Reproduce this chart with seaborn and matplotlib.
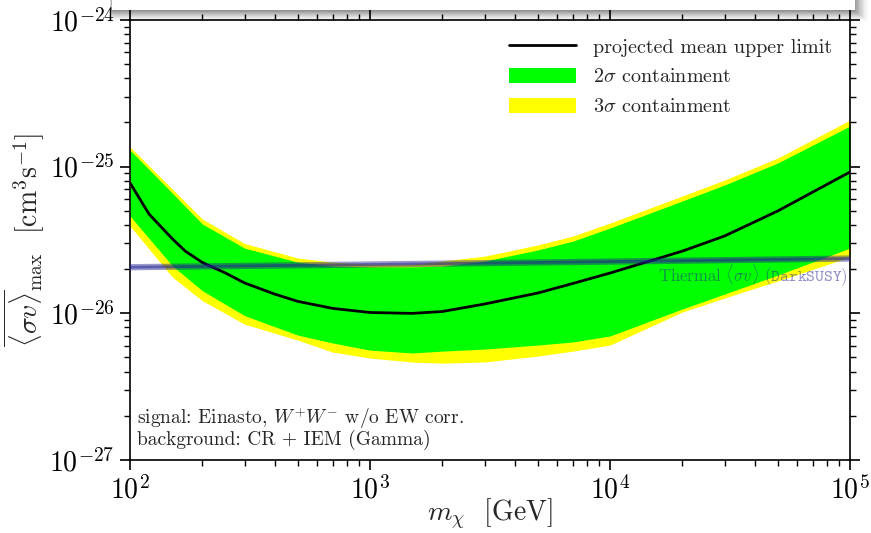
import numpy as np
import pandas as pd
import matplotlib
matplotlib.use("Agg")
import matplotlib.pyplot as plt
import matplotlib.patches as mpatches
from matplotlib.lines import Line2D
import seaborn as sns

# Dark-matter mass grid for the containment bands [GeV]
mass = [100, 150, 200, 300, 500, 700, 1000, 1500, 2000, 3000, 5000, 7000,
        10000, 20000, 30000, 50000, 100000]

# 2 sigma containment band [cm^3 s^-1]
band2_lo = [4.60e-26, 2.11e-26, 1.426e-26, 9.64e-27, 7.10e-27, 6.27e-27,
            5.61e-27, 5.36e-27, 5.52e-27, 5.70e-27, 6.07e-27, 6.37e-27,
            7.00e-27, 1.069e-26, 1.352e-26, 1.82e-26, 2.78e-26]
band2_hi = [1.294e-25, 6.59e-26, 4.06e-26, 2.78e-26, 2.23e-26, 2.10e-26,
            2.07e-26, 2.07e-26, 2.10e-26, 2.27e-26, 2.70e-26, 3.10e-26,
            3.81e-26, 5.82e-26, 7.48e-26, 1.057e-25, 1.888e-25]

# 3 sigma containment band [cm^3 s^-1]
band3_lo = [3.93e-26, 1.766e-26, 1.219e-26, 8.43e-27, 6.56e-27, 5.43e-27,
            4.95e-27, 4.65e-27, 4.57e-27, 4.65e-27, 5.11e-27, 5.52e-27,
            6.07e-27, 1.019e-26, 1.27e-26, 1.66e-26, 2.415e-26]
band3_hi = [1.358e-25, 7.03e-26, 4.39e-26, 2.99e-26, 2.38e-26, 2.23e-26,
            2.16e-26, 2.16e-26, 2.27e-26, 2.45e-26, 2.92e-26, 3.36e-26,
            4.12e-26, 6.30e-26, 8.09e-26, 1.143e-25, 2.075e-25]

# Projected mean upper limit [cm^3 s^-1]
mean_mass = [100, 120, 150, 170, 200, 250, 300, 400, 500, 700, 1000, 1500,
             2000, 3000, 5000, 7000, 10000, 20000, 30000, 50000, 100000]
mean_limit = [7.73e-26, 4.74e-26, 3.22e-26, 2.65e-26, 2.22e-26, 1.88e-26,
              1.61e-26, 1.352e-26, 1.205e-26, 1.079e-26, 1.012e-26, 0.998e-26,
              1.028e-26, 1.156e-26, 1.374e-26, 1.596e-26, 1.88e-26, 2.65e-26,
              3.36e-26, 4.98e-26, 9.18e-26]

# Thermal relic cross section (DarkSUSY)
thermal_mass = [100, 1000, 10000, 100000]
thermal_sv = [2.06e-26, 2.15e-26, 2.25e-26, 2.36e-26]

x_ticks = [1e2, 1e3, 1e4, 1e5]
y_ticks = [1e-27, 1e-26, 1e-25, 1e-24]

sns.set_style("ticks")
plt.rcParams.update({
    "font.family": "serif",
    "font.serif": ["cmr10", "DejaVu Serif"],
    "mathtext.fontset": "cm",
    "axes.formatter.use_mathtext": True,
    "axes.unicode_minus": True,
    "axes.edgecolor": "black",
    "axes.linewidth": 1.2,
    "xtick.color": "black",
    "ytick.color": "black",
})

df = pd.DataFrame({"mass": mass, "lo2": band2_lo, "hi2": band2_hi,
                   "lo3": band3_lo, "hi3": band3_hi})
df_mean = pd.DataFrame({"mass": mean_mass, "mean": mean_limit})
df_th = pd.DataFrame({"mass": thermal_mass, "sv": thermal_sv})

fig = plt.figure(figsize=(8.71, 5.33), dpi=100)
ax = fig.add_axes([0.1493, 0.137, 0.8266, 0.8258])

ax.fill_between(df["mass"], df["lo3"], df["hi3"], color="#ffff00", lw=0, zorder=1)
ax.fill_between(df["mass"], df["lo2"], df["hi2"], color="#00ff00", lw=0, zorder=2)
sns.lineplot(data=df_mean, x="mass", y="mean", color="black", lw=2, ax=ax, zorder=4)

# thermal relic line with soft halo
sns.lineplot(data=df_th, x="mass", y="sv", color="#202090", lw=4.5, alpha=0.45,
             ax=ax, zorder=5)
sns.lineplot(data=df_th, x="mass", y="sv", color="#202090", lw=2, alpha=0.5,
             ax=ax, zorder=5)
ax.text(0.997, 0.45, r"Thermal $\langle\sigma v\rangle$ ($\mathtt{DarkSUSY}$)",
        transform=ax.transAxes, ha="right", va="top", fontsize=12,
        color="#202090", alpha=0.5, zorder=6)

ax.set_xscale("log")
ax.set_yscale("log")
ax.set_xlim(1e2, 1e5)
ax.set_ylim(1e-27, 1e-24)
ax.set_xticks(x_ticks)
ax.set_yticks(y_ticks)
ax.tick_params(which="both", direction="out", top=True, right=True,
               labelsize=20, pad=4)
ax.tick_params(which="major", length=7, width=1.2)
ax.tick_params(which="minor", length=4, width=1)

ax.set_xlabel(r"$m_\chi$  [GeV]", fontsize=20, labelpad=-5)
ax.set_ylabel(r"$\overline{\langle\sigma v\rangle}_{\rm max}$  [cm$^3$s$^{-1}$]",
              fontsize=20, labelpad=2)

ax.text(0.01, 0.082, r"signal: Einasto, $W^{+}W^{-}$ w/o EW corr.",
        transform=ax.transAxes, fontsize=14, ha="left", va="baseline")
ax.text(0.01, 0.034, "background: CR + IEM (Gamma)",
        transform=ax.transAxes, fontsize=14, ha="left", va="baseline")

handles = [Line2D([], [], color="black", lw=2),
           mpatches.Patch(color="#00ff00", lw=0),
           mpatches.Patch(color="#ffff00", lw=0)]
labels = ["projected mean upper limit", r"$2\sigma$ containment",
          r"$3\sigma$ containment"]
ax.legend(handles, labels, loc="upper right", frameon=False, fontsize=14.5,
          handlelength=3.3, handleheight=0.8, handletextpad=0.85,
          labelspacing=0.55, borderaxespad=0.5)

# floating white panel with drop shadow across the top edge
W, H = 871.0, 533.0
x0, x1, y_bot = 112, 855, 10
for i in range(12):
    a = 0.08 * (1 - i / 12)
    fig.patches.append(mpatches.Rectangle(
        ((x0 - 2 + i * 0.3) / W, 1 - (y_bot + 1 + i) / H),
        (x1 - x0 + 2 + i) / W, (y_bot + 1 + i) / H,
        transform=fig.transFigure, facecolor="black", edgecolor="none",
        alpha=a, zorder=10))
fig.patches.append(mpatches.Rectangle(
    (x0 / W, 1 - y_bot / H), (x1 - x0) / W, y_bot / H + 0.01,
    transform=fig.transFigure, facecolor="white", edgecolor="none", zorder=11))

fig.savefig("out.png", dpi=100)
